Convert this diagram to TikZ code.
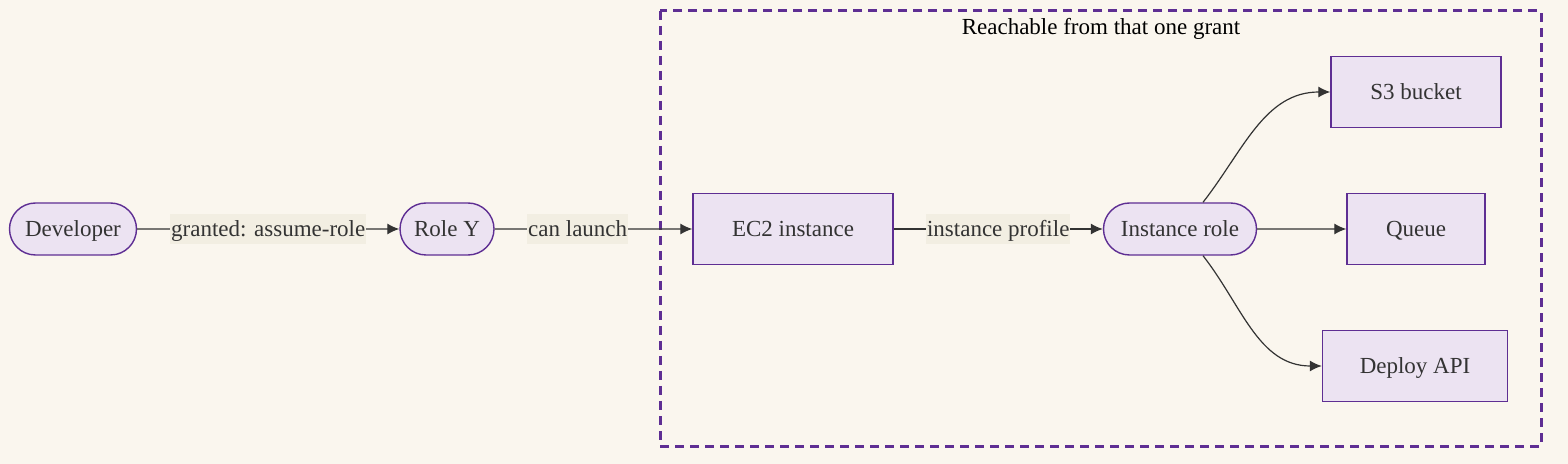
\documentclass[tikz,border=0pt]{standalone}
\usepackage{fontspec}
\setmainfont{Liberation Serif}
\usetikzlibrary{shapes.misc,arrows.meta}

\definecolor{paper}{HTML}{FAF6EE}
\definecolor{boxfill}{HTML}{ECE3F2}
\definecolor{boxline}{HTML}{5E2E93}
\definecolor{lblfill}{HTML}{F2EEE2}
\definecolor{ink}{HTML}{333333}

\begin{document}
\begin{tikzpicture}[x=0.5pt,y=-0.5pt,
  font=\fontsize{11.5}{13}\selectfont, text=ink,
  txt/.style={text height=7.6pt,text depth=0pt},
  pill/.style={txt,rounded rectangle,draw=boxline,fill=boxfill,line width=0.7pt,minimum height=26pt,inner xsep=0pt},
  box/.style={txt,rectangle,draw=boxline,fill=boxfill,line width=0.7pt,minimum height=35.5pt,inner sep=0pt},
  edge/.style={draw=ink,line width=0.6pt,-{Latex[length=6pt,width=5.5pt]}},
  lbl/.style={txt,fill=lblfill,inner xsep=0.5pt,inner ysep=3.9pt}]
\fill[paper] (0,0) rectangle (1568,464);
\useasboundingbox (0,0) rectangle (1568,464);

% the grant chain
\node[pill,minimum width=63.5pt] (dev) at (73,229) {Developer};
\node[pill,minimum width=47pt] (roley) at (447,229) {Role Y};

% what the grant reaches
\draw[boxline,line width=1.5pt,dash pattern=on 4.5pt off 3pt] (660,11) rectangle (1541,446);
\node[txt,text=black] (title) at (1101,27) {Reachable from that one grant};
\node[box,minimum width=100pt] (ec2) at (793,229) {EC2 instance};
\node[pill,minimum width=76.5pt] (irole) at (1180,229) {Instance role};
\node[box,minimum width=85pt] (s3) at (1416,92) {S3 bucket};
\node[box,minimum width=69pt] (queue) at (1416,229) {Queue};
\node[box,minimum width=92.5pt] (deploy) at (1415,366) {Deploy API};

\draw[edge] (dev) -- node[lbl] {granted: assume-role} (roley);
\draw[edge] (roley) -- node[lbl,pos=0.42] {can launch} (ec2);
\draw[edge] (ec2) -- node[lbl] {instance profile} (irole);
\draw[edge] ([xshift=11.5pt]irole.north) to[out=52,in=180] (s3.west);
\draw[edge] (irole) -- (queue);
\draw[edge] ([xshift=11.5pt]irole.south) to[out=-52,in=180] (deploy.west);
\end{tikzpicture}
\end{document}
